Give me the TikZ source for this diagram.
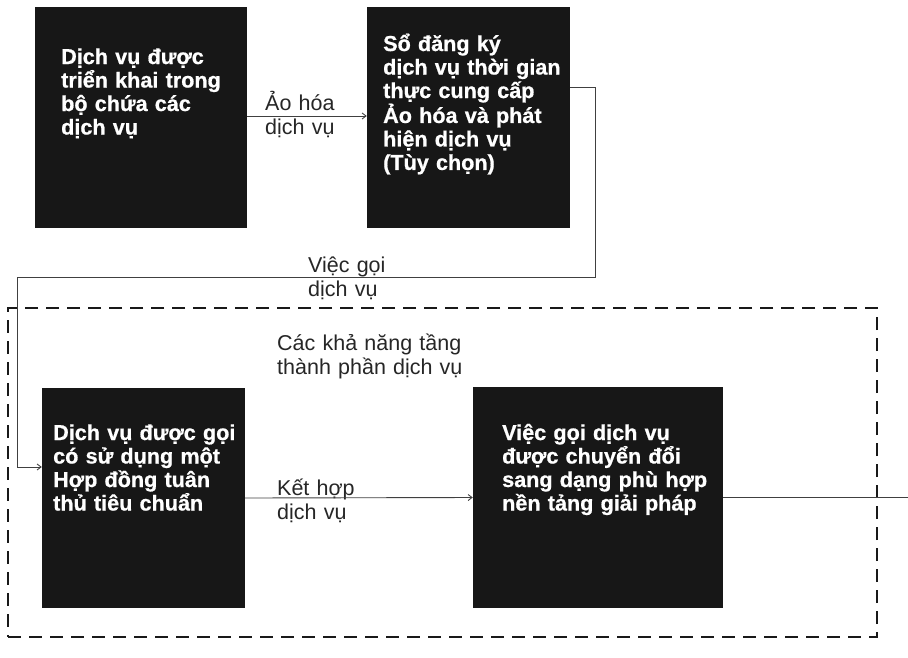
\documentclass[tikz,border=0pt]{standalone}
\usepackage{fontspec}
\usetikzlibrary{arrows.meta}
\newfontfamily\boxfont[FakeBold=0.8]{Liberation Sans}
\newfontfamily\labfont{Liberation Sans}
\tikzset{
  darkbox/.style={fill=black!91, draw=none, inner sep=0pt},
  boxtext/.style={anchor=base west, inner sep=0pt, text=white, align=left, text width=230pt,
    font=\boxfont\bfseries\fontsize{21.6}{23.5}\selectfont},
  labtext/.style={anchor=base west, inner sep=0pt, text=black!85, align=left, text width=230pt,
    font=\labfont\fontsize{21.5}{24.5}\selectfont},
  conn/.style={draw=black!75, line width=0.9pt},
  tip/.style={-{Straight Barb[length=4pt,width=6pt]}},
  frame/.style={draw=black!90, line width=2.2pt, dash pattern=on 13pt off 8pt, inner sep=0pt}
}
\begin{document}
\begin{tikzpicture}[x=1pt,y=-1pt]
\useasboundingbox (0,0) rectangle (908,657);
% dashed frame
\node[frame, minimum width=869pt, minimum height=329pt] (frame) at (442.5,472.5) {};
% boxes
\node[darkbox, minimum width=212pt, minimum height=221pt] (b1) at (141,117.5) {};
\node[darkbox, minimum width=203pt, minimum height=221pt] (b2) at (468.5,117.5) {};
\node[darkbox, minimum width=203pt, minimum height=220pt] (b3) at (143.5,498) {};
\node[darkbox, minimum width=250pt, minimum height=221pt] (b4) at (598,497.5) {};
% box texts
\node[boxtext] (t1) at (61,64) {Dịch vụ được\\triển khai trong\\bộ chứa các\\dịch vụ};
\node[boxtext] (t2) at (383,51) {Sổ đăng ký\\dịch vụ thời gian\\thực cung cấp\\Ảo hóa và phát\\hiện dịch vụ\\(Tùy chọn)};
\node[boxtext] (t3) at (53,440) {Dịch vụ được gọi\\có sử dụng một\\Hợp đồng tuân\\thủ tiêu chuẩn};
\node[boxtext] (t4) at (502,440) {Việc gọi dịch vụ\\được chuyển đổi\\sang dạng phù hợp\\nền tảng giải pháp};
% labels
\node[labtext] (l1) at (265,110) {Ảo hóa\\dịch vụ};
\node[labtext] (l2) at (308,272) {Việc gọi\\dịch vụ};
\node[labtext] (l3) at (277,350) {Các khả năng tầng\\thành phần dịch vụ};
\node[labtext] (l4) at (277,495) {Kết hợp\\dịch vụ};
% connectors
\coordinate (turn) at (17,277);
\coordinate (outend) at (908,497.5);
\draw[conn,tip] ([yshift=1.5pt]b1.east) -- ([yshift=1.5pt]b2.west);
\draw[conn,tip] ([yshift=30.5pt]b2.east) -- ++(25,0) |- (turn) |- ([yshift=31pt]b3.west);
\draw[conn,tip] (b3.east) -- (b4.west);
\draw[conn] (b4.east) -- (outend);
\end{tikzpicture}
\end{document}
